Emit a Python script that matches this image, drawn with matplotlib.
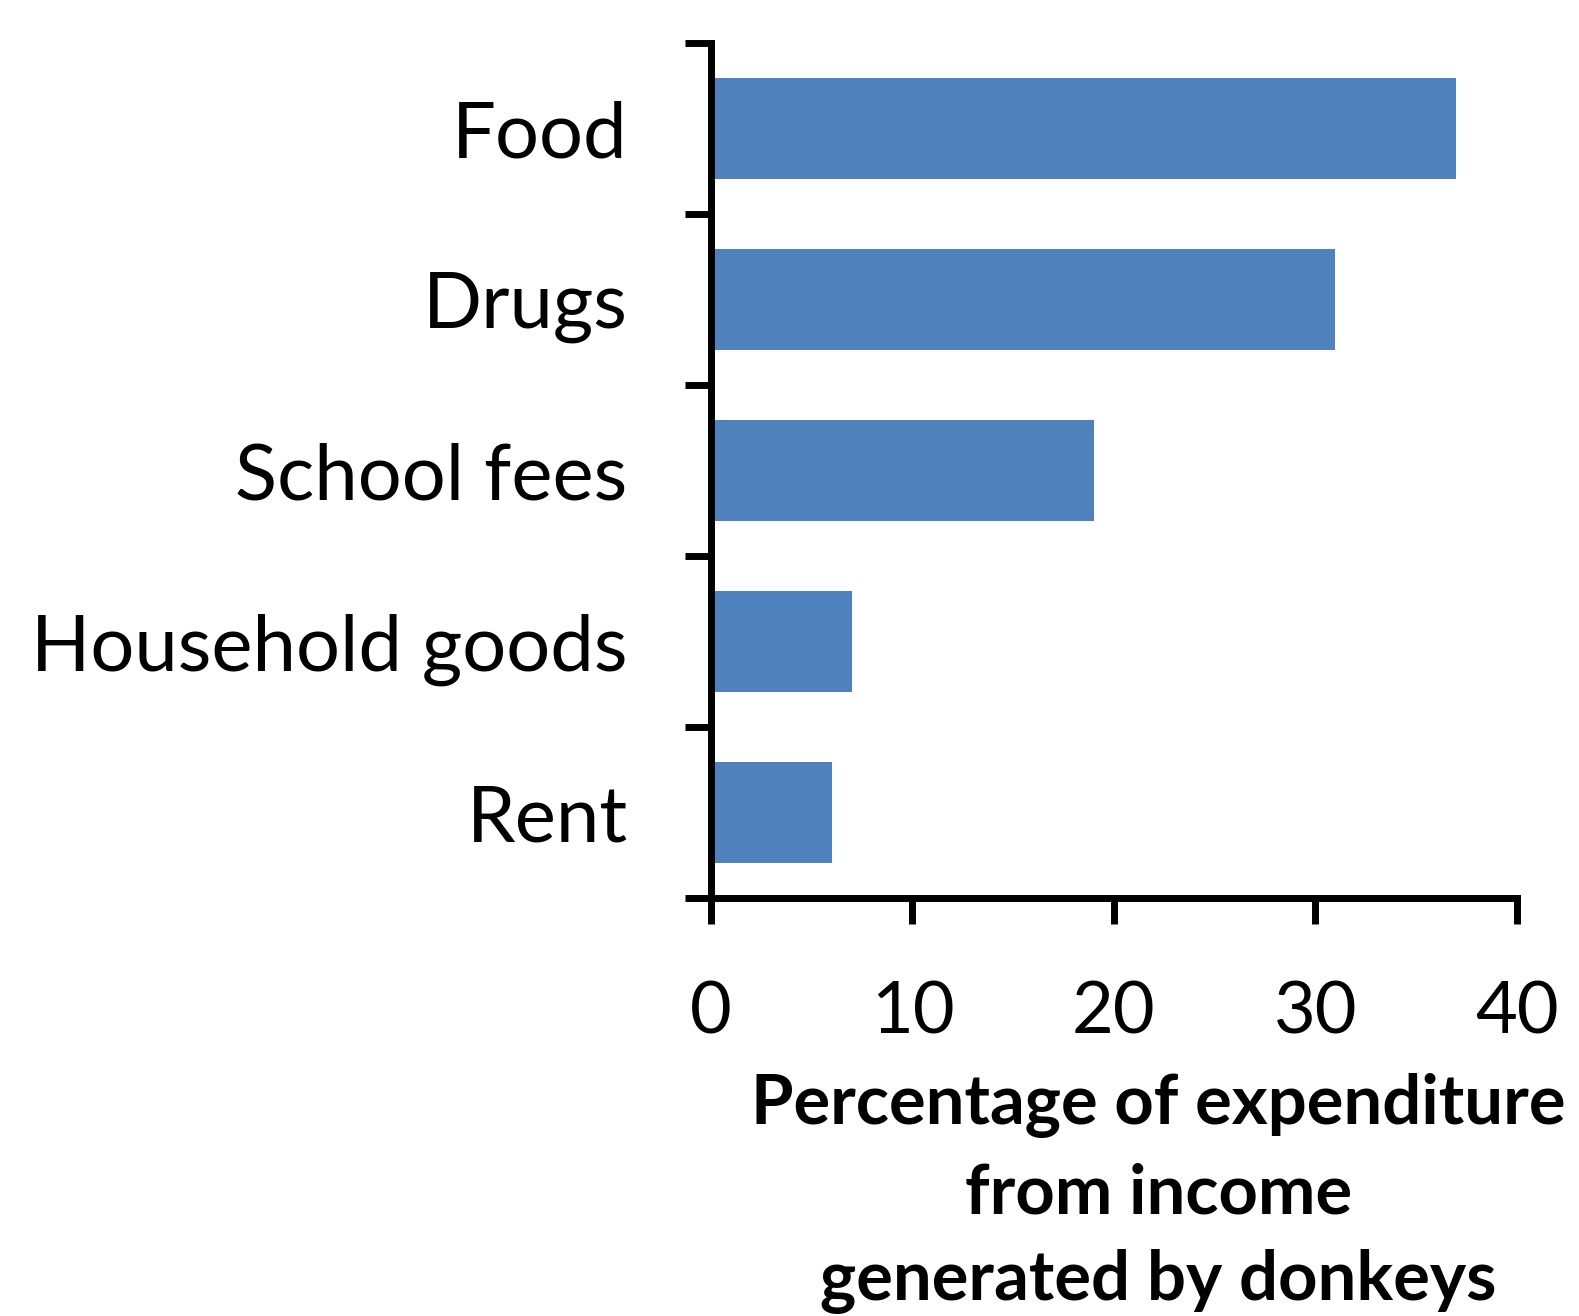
import numpy as np
import matplotlib.pyplot as plt

# categories and values (percent of expenditure)
categories = ['Food', 'Drugs', 'School fees', 'Household goods', 'Rent']
values = [37, 31, 19, 7, 6]
xticks = [0, 10, 20, 30, 40]

plt.rcParams['font.family'] = ['Lato', 'DejaVu Sans']

fig = plt.figure(figsize=(15.79, 13.16), dpi=100)
ax = fig.add_axes([0.4503, 0.3175, 0.5102, 0.6495])

pos = np.arange(len(categories))
ax.barh(pos, values, height=0.59, color='#4F81BD')

ax.set_ylim(len(categories) - 0.5, -0.5)
ax.set_xlim(0, 40)

# ticks between categories, labels at centres
ax.set_yticks(np.arange(-0.5, len(categories), 1))
ax.set_yticklabels([])
ax.set_yticks(pos, minor=True)
ax.set_yticklabels(categories, minor=True, fontsize=56)
ax.tick_params(axis='y', which='minor', length=0, pad=60)
ax.tick_params(axis='y', which='major', length=19, width=5, direction='out')

ax.set_xticks(xticks)
ax.set_xticklabels([str(t) for t in xticks], fontsize=52)
ax.tick_params(axis='x', length=19, width=5, direction='out', pad=40)

for s in ['top', 'right']:
    ax.spines[s].set_visible(False)
for s in ['left', 'bottom']:
    ax.spines[s].set_linewidth(5)

ax.set_xlabel('Percentage of expenditure\nfrom income\ngenerated by donkeys',
              fontsize=49.5, fontweight='bold', linespacing=1.47, va='top')
ax.xaxis.set_label_coords((1150 - 706) / 800, -0.205)

plt.savefig('out.png', dpi=100)
